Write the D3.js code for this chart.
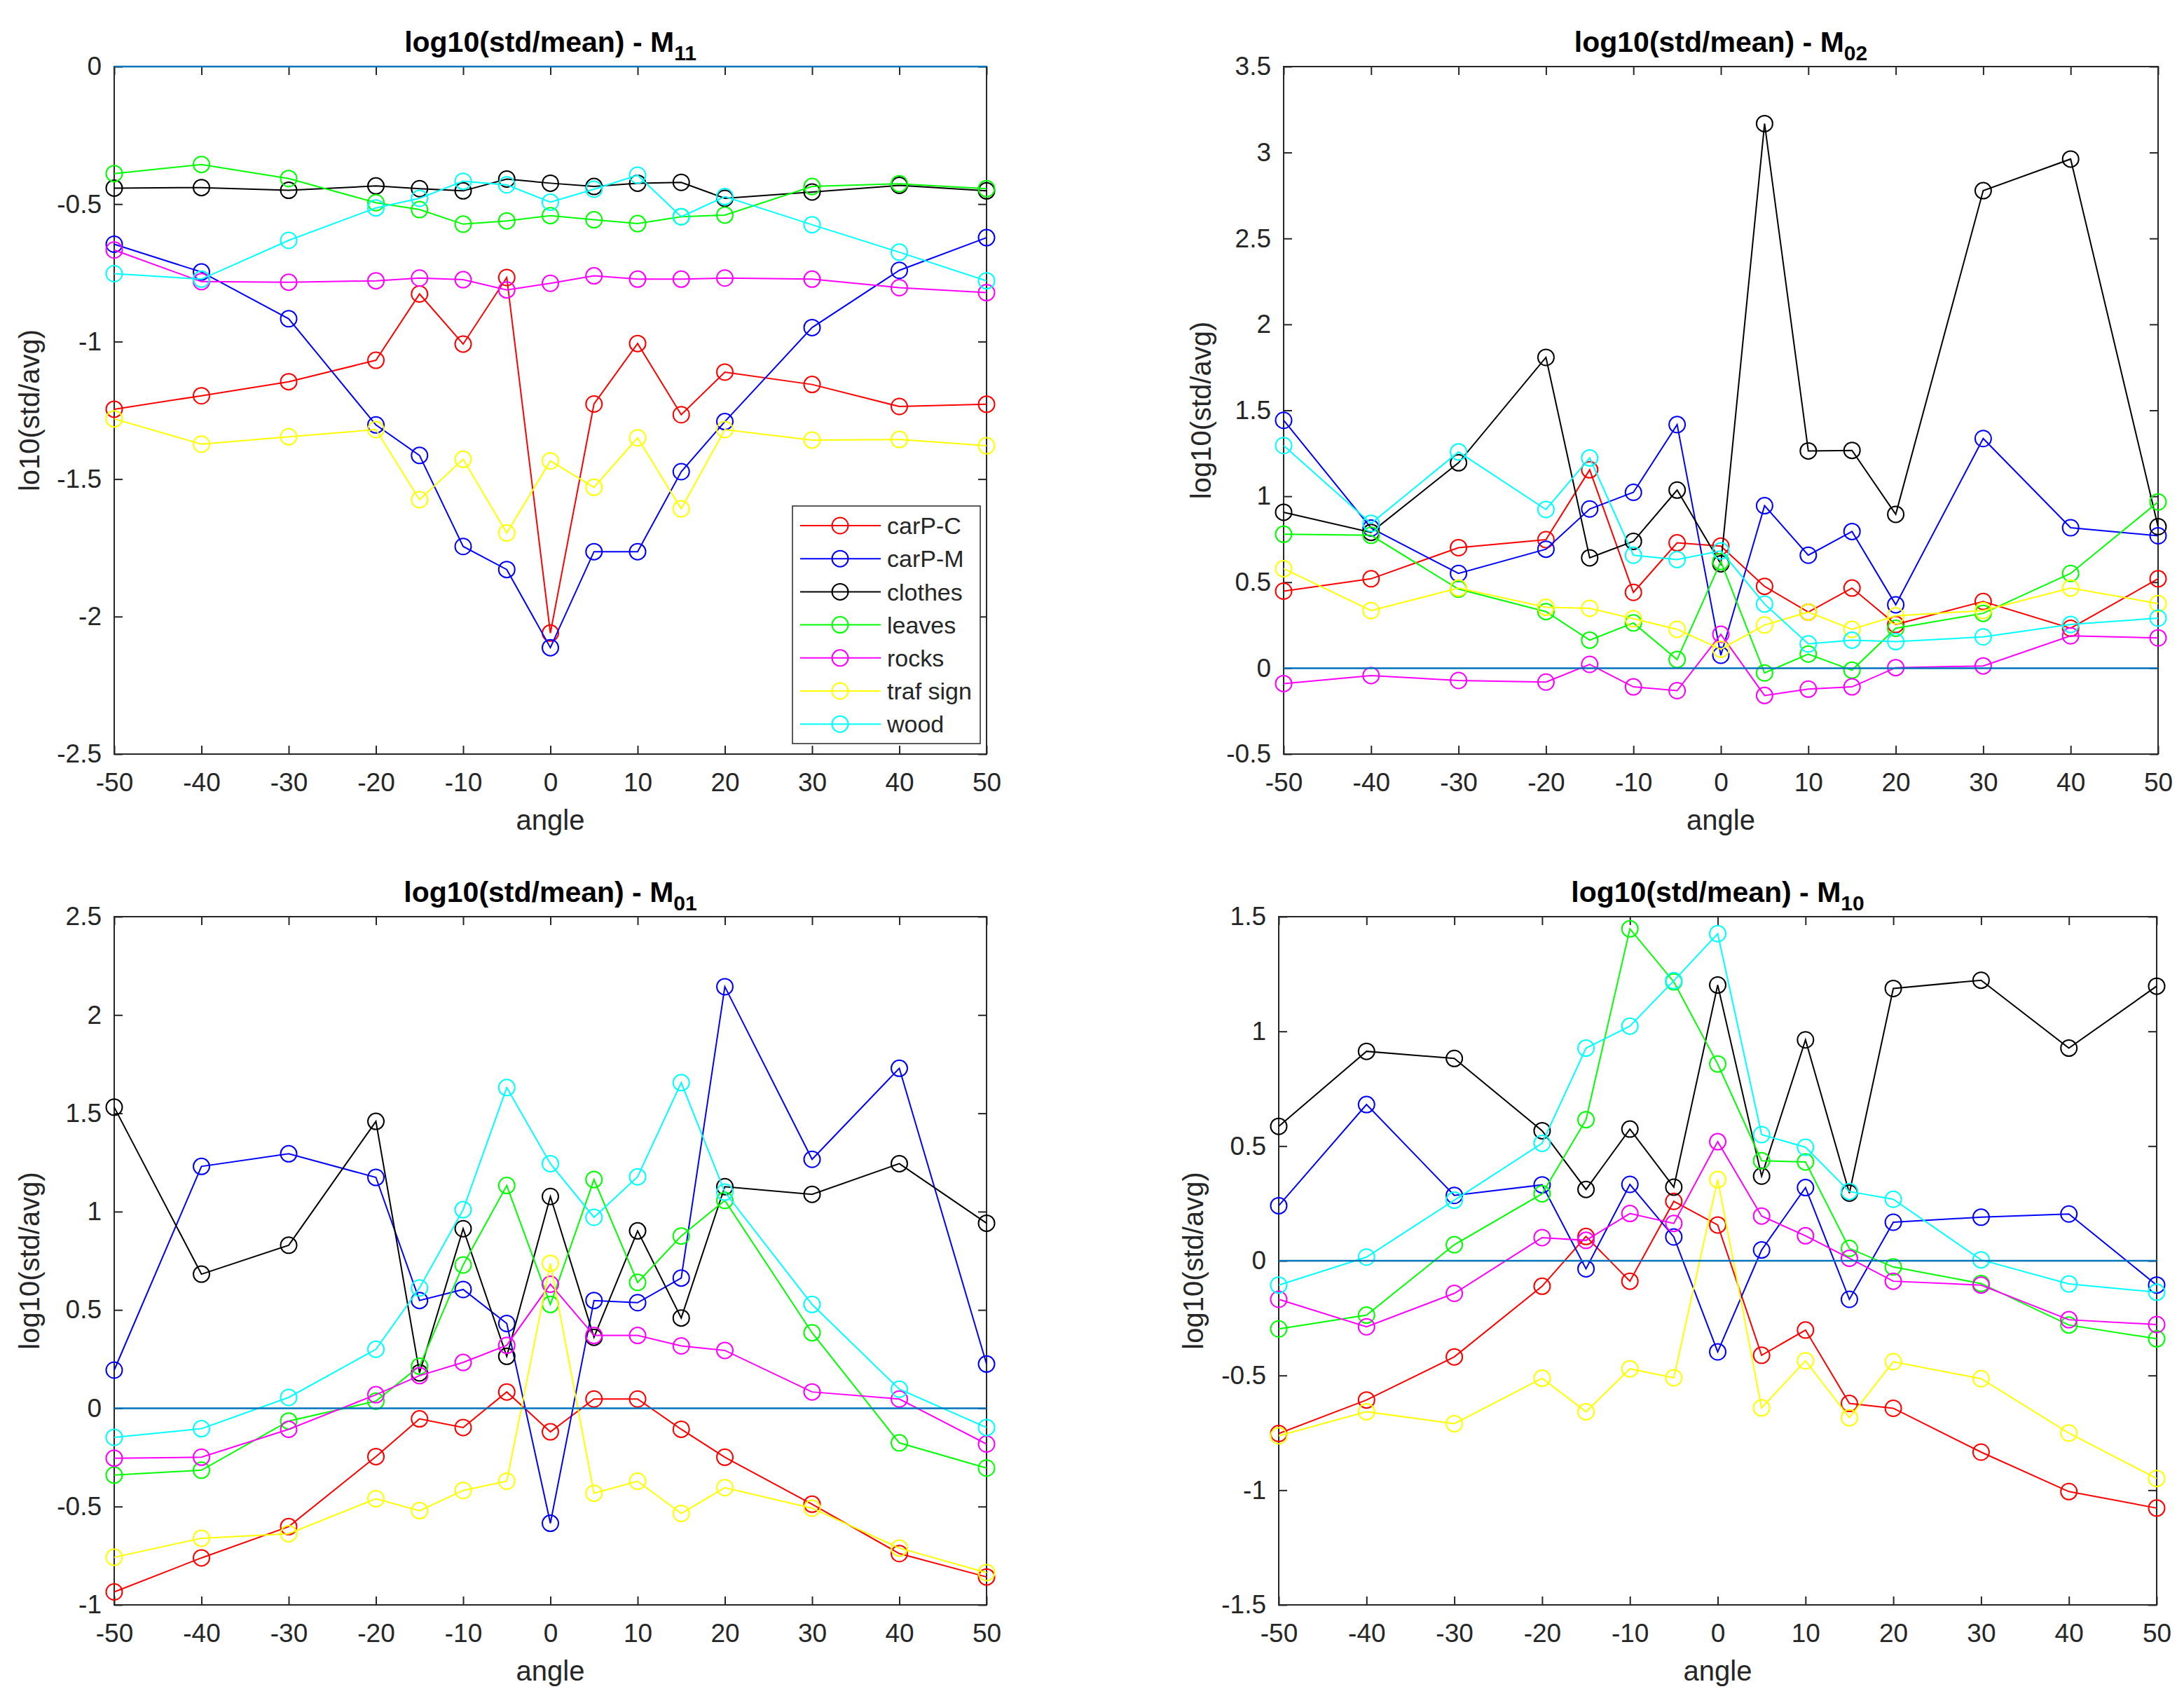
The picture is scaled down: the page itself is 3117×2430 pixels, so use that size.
<!DOCTYPE html>
<html>
<head>
<meta charset="utf-8">
<script src="https://cdn.jsdelivr.net/npm/d3@7"></script>
<style>
  body { margin: 0; background: #fff; }
  text { font-family: "Liberation Sans", Arial, Helvetica, sans-serif; }
</style>
</head>
<body>
<script>
var width = 3117,
    height = 2430;

// x positions (angle) shared by every panel
var angles = [-50, -40, -30, -20, -15, -10, -5, 0, 5, 10, 15, 20, 30, 40, 50];
var xTicks = [-50, -40, -30, -20, -10, 0, 10, 20, 30, 40, 50];
var seriesNames = ["carP-C", "carP-M", "clothes", "leaves", "rocks", "traf sign", "wood"];
var seriesColors = ["#ff0000", "#0000ff", "#000000", "#00ff00", "#ff00ff", "#ffff00", "#00ffff"];

// rows follow seriesNames order
var m11 = [
  [-1.246, -1.197, -1.146, -1.068, -0.827, -1.009, -0.767, -2.06, -1.227, -1.007, -1.266, -1.111, -1.156, -1.236, -1.228],
  [-0.646, -0.747, -0.917, -1.303, -1.414, -1.745, -1.829, -2.113, -1.764, -1.764, -1.473, -1.291, -0.949, -0.741, -0.622],
  [-0.442, -0.440, -0.450, -0.434, -0.444, -0.452, -0.409, -0.424, -0.436, -0.424, -0.421, -0.479, -0.456, -0.432, -0.452],
  [-0.389, -0.356, -0.407, -0.495, -0.520, -0.573, -0.561, -0.542, -0.557, -0.571, -0.546, -0.540, -0.436, -0.426, -0.444],
  [-0.667, -0.782, -0.784, -0.779, -0.769, -0.775, -0.812, -0.788, -0.761, -0.773, -0.773, -0.769, -0.773, -0.804, -0.822],
  [-1.281, -1.373, -1.346, -1.320, -1.575, -1.428, -1.696, -1.434, -1.530, -1.350, -1.608, -1.320, -1.358, -1.356, -1.379],
  [-0.753, -0.773, -0.632, -0.514, -0.479, -0.417, -0.430, -0.493, -0.446, -0.395, -0.546, -0.473, -0.575, -0.675, -0.779]
];
var m02 = [
  [0.448, 0.520, 0.701, 0.748, 1.154, 0.441, 0.729, 0.710, 0.476, 0.326, 0.466, 0.254, 0.388, 0.232, 0.520],
  [1.442, 0.815, 0.551, 0.692, 0.926, 1.023, 1.417, 0.075, 0.945, 0.657, 0.795, 0.369, 1.336, 0.817, 0.770],
  [0.907, 0.790, 1.195, 1.808, 0.642, 0.738, 1.036, 0.607, 3.168, 1.264, 1.267, 0.895, 2.778, 2.962, 0.823],
  [0.779, 0.773, 0.460, 0.329, 0.163, 0.263, 0.050, 0.620, -0.028, 0.082, -0.012, 0.232, 0.319, 0.551, 0.967],
  [-0.090, -0.043, -0.072, -0.081, 0.022, -0.109, -0.131, 0.197, -0.159, -0.122, -0.109, 0.003, 0.013, 0.188, 0.176],
  [0.579, 0.335, 0.466, 0.354, 0.348, 0.288, 0.226, 0.110, 0.251, 0.326, 0.226, 0.304, 0.335, 0.466, 0.376],
  [1.295, 0.842, 1.258, 0.923, 1.223, 0.657, 0.632, 0.682, 0.373, 0.141, 0.163, 0.154, 0.182, 0.254, 0.291]
];
var m01 = [
  [-0.934, -0.761, -0.602, -0.246, -0.054, -0.098, 0.083, -0.120, 0.047, 0.047, -0.107, -0.249, -0.488, -0.739, -0.858],
  [0.194, 1.230, 1.294, 1.174, 0.548, 0.604, 0.431, -0.585, 0.548, 0.537, 0.662, 2.144, 1.266, 1.729, 0.225],
  [1.531, 0.682, 0.829, 1.459, 0.180, 0.913, 0.264, 1.077, 0.361, 0.902, 0.459, 1.127, 1.088, 1.244, 0.941],
  [-0.340, -0.315, -0.065, 0.036, 0.214, 0.729, 1.133, 0.528, 1.163, 0.640, 0.876, 1.057, 0.384, -0.176, -0.304],
  [-0.254, -0.249, -0.107, 0.069, 0.166, 0.233, 0.320, 0.631, 0.370, 0.370, 0.317, 0.294, 0.083, 0.047, -0.182],
  [-0.758, -0.661, -0.638, -0.460, -0.521, -0.418, -0.371, 0.737, -0.432, -0.371, -0.535, -0.404, -0.508, -0.711, -0.836],
  [-0.148, -0.104, 0.055, 0.300, 0.612, 1.010, 1.631, 1.244, 0.971, 1.177, 1.656, 1.099, 0.528, 0.097, -0.098]
];
var m10 = [
  [-0.753, -0.607, -0.419, -0.111, 0.106, -0.089, 0.259, 0.156, -0.412, -0.302, -0.622, -0.643, -0.834, -1.006, -1.078],
  [0.240, 0.681, 0.285, 0.331, -0.035, 0.333, 0.104, -0.397, 0.047, 0.319, -0.168, 0.168, 0.190, 0.204, -0.106],
  [0.586, 0.913, 0.882, 0.567, 0.311, 0.574, 0.321, 1.202, 0.369, 0.963, 0.295, 1.187, 1.223, 0.927, 1.197],
  [-0.297, -0.237, 0.070, 0.292, 0.615, 1.447, 1.216, 0.858, 0.436, 0.431, 0.054, -0.027, -0.099, -0.280, -0.340],
  [-0.168, -0.288, -0.142, 0.101, 0.089, 0.206, 0.163, 0.519, 0.195, 0.109, 0.011, -0.089, -0.106, -0.257, -0.278],
  [-0.763, -0.658, -0.710, -0.512, -0.658, -0.471, -0.510, 0.354, -0.641, -0.436, -0.684, -0.440, -0.514, -0.751, -0.949],
  [-0.106, 0.016, 0.264, 0.512, 0.927, 1.023, 1.221, 1.426, 0.550, 0.495, 0.302, 0.268, 0.004, -0.101, -0.137]
];

var m11Ticks = [-2.5, -2, -1.5, -1, -0.5, 0];
var m02Ticks = [-0.5, 0, 0.5, 1, 1.5, 2, 2.5, 3, 3.5];
var m01Ticks = [-1, -0.5, 0, 0.5, 1, 1.5, 2, 2.5];
var m10Ticks = [-1.5, -1, -0.5, 0, 0.5, 1, 1.5];

var panels = [
  {sub: "11", data: m11, ticks: m11Ticks, ylabel: "lo10(std/avg)", left: 163, right: 1408, top: 95, bottom: 1076, labX: 56, legend: true},
  {sub: "02", data: m02, ticks: m02Ticks, ylabel: "log10(std/avg)", left: 1832, right: 3080, top: 95, bottom: 1076, labX: 1728, legend: false},
  {sub: "01", data: m01, ticks: m01Ticks, ylabel: "log10(std/avg)", left: 163, right: 1408, top: 1308, bottom: 2290, labX: 56, legend: false},
  {sub: "10", data: m10, ticks: m10Ticks, ylabel: "log10(std/avg)", left: 1825, right: 3078, top: 1308, bottom: 2290, labX: 1717, legend: false}
];

var axisColor = "#262626";

var svg = d3.select("body").append("svg")
    .attr("width", width)
    .attr("height", height);

svg.append("rect")
    .attr("width", width)
    .attr("height", height)
    .attr("fill", "white");

panels.forEach(function(p) {
  var x = d3.scaleLinear().domain([-50, 50]).range([p.left, p.right]);
  var y = d3.scaleLinear()
      .domain([p.ticks[0], p.ticks[p.ticks.length - 1]])
      .range([p.bottom, p.top]);

  var g = svg.append("g");

  // axes with inward ticks on all four sides
  var bottomAx = g.append("g")
      .attr("transform", "translate(0," + p.bottom + ")")
      .call(d3.axisBottom(x).tickValues(xTicks).tickSize(-12).tickPadding(27).tickFormat(function(d){ return String(d); }));
  var topAx = g.append("g")
      .attr("transform", "translate(0," + p.top + ")")
      .call(d3.axisTop(x).tickValues(xTicks).tickSize(-12).tickFormat(""));
  var leftAx = g.append("g")
      .attr("transform", "translate(" + p.left + ",0)")
      .call(d3.axisLeft(y).tickValues(p.ticks).tickSize(-12).tickPadding(18).tickFormat(function(d){ return String(d); }));
  var rightAx = g.append("g")
      .attr("transform", "translate(" + p.right + ",0)")
      .call(d3.axisRight(y).tickValues(p.ticks).tickSize(-12).tickFormat(""));

  [bottomAx, topAx, leftAx, rightAx].forEach(function(a) {
    a.select(".domain").remove();
    a.selectAll(".tick line").attr("stroke", axisColor).attr("stroke-width", 2);
    a.selectAll(".tick text")
        .attr("fill", axisColor)
        .style("font-size", "37px")
        .style("font-family", "'Liberation Sans', Arial, sans-serif");
  });

  g.append("rect") //axes box
      .attr("x", p.left)
      .attr("y", p.top)
      .attr("width", p.right - p.left)
      .attr("height", p.bottom - p.top)
      .attr("fill", "none")
      .attr("stroke", axisColor)
      .attr("stroke-width", 2);

  var line = d3.line()
      .x(function(d, i){ return x(angles[i]); })
      .y(function(d){ return y(d); });

  p.data.forEach(function(vals, s) {
    g.append("path")
        .attr("d", line(vals))
        .attr("fill", "none")
        .attr("stroke", seriesColors[s])
        .attr("stroke-width", 2);
    g.selectAll(null).data(vals).enter()
      .append("circle")
        .attr("cx", function(d, i){ return x(angles[i]); })
        .attr("cy", function(d){ return y(d); })
        .attr("r", 11.5)
        .attr("fill", "none")
        .attr("stroke", seriesColors[s])
        .attr("stroke-width", 2);
  });

  // zero reference line
  g.append("path")
      .attr("d", d3.line().x(function(d){ return x(d); }).y(function(){ return y(0); })([-50, 50]))
      .attr("stroke", "#0072BD")
      .attr("stroke-width", 2.5)
      .attr("fill", "none");

  // title with subscript
  var title = g.append("text")
      .attr("x", (p.left + p.right) / 2)
      .attr("y", p.top - 21)
      .attr("text-anchor", "middle")
      .style("font-size", "41px")
      .style("font-weight", "bold")
      .attr("fill", "black");
  title.append("tspan").text("log10(std/mean) - M");
  title.append("tspan").attr("dy", 12).style("font-size", "30px").text(p.sub);

  g.append("text") //x label
      .attr("x", (p.left + p.right) / 2)
      .attr("y", p.bottom + 108)
      .attr("text-anchor", "middle")
      .style("font-size", "40px")
      .attr("fill", axisColor)
      .text("angle");

  g.append("text") //y label
      .attr("transform", "translate(" + p.labX + "," + ((p.top + p.bottom) / 2) + ") rotate(-90)")
      .attr("text-anchor", "middle")
      .style("font-size", "40px")
      .attr("fill", axisColor)
      .text(p.ylabel);

  if (p.legend) {
    var lx = 1131, ly = 722, lw = 268, lh = 339;
    g.append("rect")
        .attr("x", lx).attr("y", ly)
        .attr("width", lw).attr("height", lh)
        .attr("fill", "white")
        .attr("stroke", axisColor)
        .attr("stroke-width", 1.5);
    seriesNames.forEach(function(name, i) {
      var yy = ly + 28 + i * 47.2;
      g.append("line")
          .attr("x1", lx + 11).attr("x2", lx + 126)
          .attr("y1", yy).attr("y2", yy)
          .attr("stroke", seriesColors[i])
          .attr("stroke-width", 2);
      g.append("circle")
          .attr("cx", lx + 68).attr("cy", yy).attr("r", 11.5)
          .attr("fill", "none")
          .attr("stroke", seriesColors[i])
          .attr("stroke-width", 2);
      g.append("text")
          .attr("x", lx + 135).attr("y", yy)
          .attr("dy", "0.36em")
          .style("font-size", "34px")
          .attr("fill", axisColor)
          .text(name);
    });
  }
});
</script>
</body>
</html>
